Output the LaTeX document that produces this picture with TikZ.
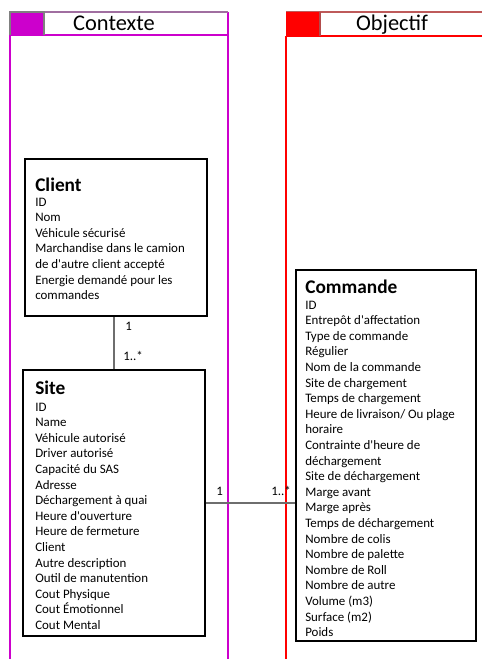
\documentclass[tikz,border=0pt]{standalone}
\usepackage{fontspec}
\setmainfont{Carlito}
\definecolor{ctx}{RGB}{204,0,204}
\definecolor{obj}{RGB}{255,0,0}
\definecolor{conn}{RGB}{110,110,110}
\definecolor{hdrtop}{RGB}{160,110,160}
\definecolor{objtop}{RGB}{190,90,90}
\newcommand{\aq}{\textquotesingle{}}
\tikzset{
  cls/.style={draw=black, line width=1.1pt, fill=white, inner sep=0pt},
  ttl/.style={anchor=base west, inner sep=0pt, font=\fontsize{14.5}{17}\selectfont\bfseries},
  attr/.style={anchor=base west, inner sep=0pt, font=\fontsize{9.7}{11.7}\selectfont},
  lbl/.style={anchor=base west, inner sep=0pt, font=\fontsize{9.7}{11.7}\selectfont},
  hdr/.style={anchor=base, inner sep=0pt, font=\fontsize{16.8}{20}\selectfont},
  lane/.style={line width=0.8pt},
  link/.style={draw=conn, line width=0.8pt}
}
\begin{document}
\begin{tikzpicture}[x=0.75pt,y=-0.75pt]
\useasboundingbox (0,0) rectangle (482,659);
% Contexte lane
\draw[lane, ctx] (10,659) -- (10,35);
\draw[lane, ctx] (228,659) -- (228,12);
\draw[lane, ctx] (10,35) -- (228,35);
\draw[lane, hdrtop] (10,12) -- (228,12);
\fill[ctx] (10,12) rectangle (44,35);
\draw[lane, gray] (10,35) -- (10,12) -- (44,12) -- (44,35);
\node[hdr] (ctxtitle) at (114,31) {Contexte};
% Objectif lane
\draw[lane, obj] (286,659) -- (286,36);
\draw[lane, obj] (286,36) -- (482,36);
\draw[lane, objtop] (286,12) -- (482,12);
\fill[obj] (286,12) rectangle (320,36);
\draw[lane, gray!60!obj] (320,12) -- (320,36);
\node[hdr] (objtitle) at (392,31) {Objectif};
% Client
\node[cls, minimum width=182*0.75pt, minimum height=157*0.75pt] (client) at (116,237.5) {};
\node[ttl] (clientT) at (35,191) {Client};
\foreach \t [count=\i] in {ID, Nom, Véhicule sécurisé, Marchandise dans le camion, de d\aq autre client accepté, Energie demandé pour les, commandes}
  \node[attr] (client\i) at (35,{206+15.6*(\i-1)}) {\t};
% Site
\node[cls, minimum width=182*0.75pt, minimum height=266*0.75pt] (site) at (114,503) {};
\node[ttl] (siteT) at (35,394) {Site};
\foreach \t [count=\i] in {ID, Name, Véhicule autorisé, Driver autorisé, Capacité du SAS, Adresse, Déchargement à quai, Heure d\aq ouverture, Heure de fermeture, Client, Autre description, Outil de manutention, Cout Physique, Cout Émotionnel, Cout Mental}
  \node[attr] (site\i) at (35,{411+15.6*(\i-1)}) {\t};
% Commande
\node[cls, minimum width=180*0.75pt, minimum height=371*0.75pt] (cmd) at (386,455.5) {};
\node[ttl] (cmdT) at (305,293) {Commande};
\foreach \t [count=\i] in {ID, Entrepôt d\aq affectation, Type de commande, Régulier, Nom de la commande, Site de chargement, Temps de chargement, Heure de livraison/ Ou plage, horaire, Contrainte d\aq heure de, déchargement, Site de déchargement, Marge avant, Marge après, Temps de déchargement, Nombre de colis, Nombre de palette, Nombre de Roll, Nombre de autre, Volume (m3), Surface (m2), Poids}
  \node[attr] (cmd\i) at (305,{309+15.6*(\i-1)}) {\t};
% connectors
\draw[link] (site.north) -- (site.north |- client.south);
\draw[link] (site.east) -- (site.east -| cmd.west);
\node[lbl] (l1) at (125,330) {1};
\node[lbl] (l2) at (123,360) {1..*};
\node[lbl] (l3) at (216,495) {1};
\node[lbl] (l4) at (271,495) {1..*};
\end{tikzpicture}
\end{document}
